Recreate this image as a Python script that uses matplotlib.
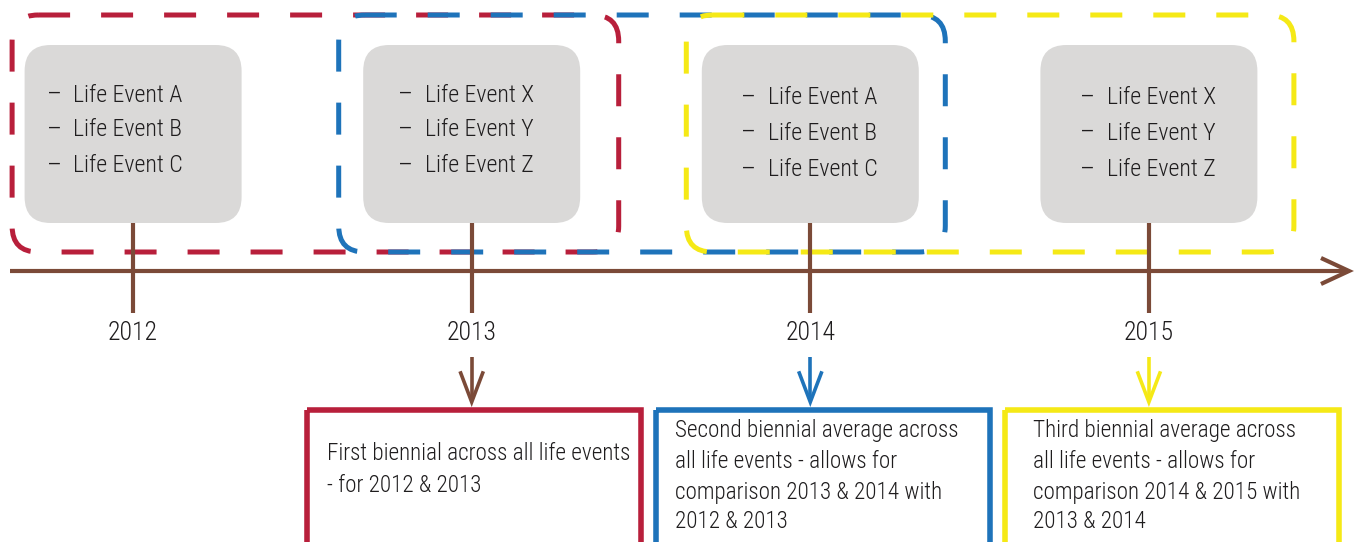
import matplotlib
matplotlib.use("Agg")
import matplotlib.pyplot as plt
from matplotlib.patches import FancyBboxPatch, Rectangle
from matplotlib import font_manager

# ---------------- data ----------------
years = [2012, 2013, 2014, 2015]
life_events = [
    ["Life Event A", "Life Event B", "Life Event C"],
    ["Life Event X", "Life Event Y", "Life Event Z"],
    ["Life Event A", "Life Event B", "Life Event C"],
    ["Life Event X", "Life Event Y", "Life Event Z"],
]
period_years = [(2012, 2013), (2013, 2014), (2014, 2015)]
period_arrow_year = [2013, 2014, 2015]
notes = [
    ["First biennial across all life events", "- for 2012 & 2013"],
    ["Second biennial average across", "all life events - allows for",
     "comparison 2013 & 2014 with", "2012 & 2013"],
    ["Third biennial average across", "all life events - allows for",
     "comparison 2014 & 2015 with", "2013 & 2014"],
]

# ---------------- style ----------------
BROWN = "#7B4A38"
RED = "#B81F3B"
BLUE = "#1E73BA"
YELLOW = "#F5E916"
GRAY = "#DAD9D8"
TXT = "#1F1D1E"
period_colors = [RED, BLUE, YELLOW]
arrow_colors = [BROWN, BLUE, YELLOW]

avail = {f.name for f in font_manager.fontManager.ttflist}
FONT = "DejaVu Sans"
for cand in ["Roboto Condensed", "Archivo Narrow", "IBM Plex Sans Condensed",
             "Fira Sans Condensed"]:
    if cand in avail:
        FONT = cand
        break
plt.rcParams["font.family"] = [FONT, "DejaVu Sans"]
plt.rcParams["font.weight"] = 300

W, H = 1356, 542
fig = plt.figure(figsize=(W / 100, H / 100), dpi=100)
ax = fig.add_axes([0, 0, 1, 1])
ax.set_xlim(0, W)
ax.set_ylim(H, 0)
ax.axis("off")

X0, STEP = 133.1, 338.6
def xpos(y):
    return X0 + (y - years[0]) * STEP

AXIS_Y = 271
BOX_W, BOX_TOP, BOX_BOT = 217, 45, 223
event_rows = [[95, 130, 166], [95, 130, 166], [98, 133, 170], [98, 133, 170]]
event_dx = [(-86, -60), (-74, -47), (-69, -42), (-69, -42)]

# dashed period frames
for (y0, y1), c, (lo, hi) in zip(period_years, period_colors,
                                 [(121, 147), (133, 135), (124, 145)]):
    x_left = xpos(y0) - lo
    x_right = xpos(y1) + hi
    p = FancyBboxPatch((x_left, 15), x_right - x_left, 237,
                       boxstyle="round,pad=0,rounding_size=26",
                       fill=False, edgecolor=c, linewidth=3.6,
                       linestyle=(0, (6.4, 6.2)), capstyle="butt", zorder=2)
    ax.add_patch(p)

# timeline
ax.plot([10, 1348], [AXIS_Y, AXIS_Y], color=BROWN, lw=3.0, zorder=3,
        solid_capstyle="butt")
ax.plot([1321, 1349, 1321], [258, AXIS_Y, 284], color=BROWN, lw=3.0, zorder=3,
        solid_joinstyle="miter", solid_capstyle="butt")

# gray event boxes + ticks + year labels
for yr, evs, rows, (ddx, tdx) in zip(years, life_events, event_rows, event_dx):
    x = xpos(yr)
    ax.plot([x, x], [BOX_BOT - 2, 313], color=BROWN, lw=3.0, zorder=3,
            solid_capstyle="butt")
    b = FancyBboxPatch((x - BOX_W / 2, BOX_TOP), BOX_W, BOX_BOT - BOX_TOP,
                       boxstyle="round,pad=0,rounding_size=26",
                       facecolor=GRAY, edgecolor="none", zorder=4)
    ax.add_patch(b)
    for ev, ry in zip(evs, rows):
        ax.text(x + ddx, ry, "\u2013", ha="left", va="center", fontsize=19,
                color=TXT, zorder=5)
        ax.text(x + tdx, ry, ev, ha="left", va="center", fontsize=17.2,
                color=TXT, zorder=5)
    ax.text(x, 333, str(yr), ha="center", va="center", fontsize=18.5,
            color=TXT, zorder=5)

# arrows and note boxes
NOTE_LEFT0, NOTE_STEP, NOTE_W = 307, 349, 334
note_rows = [[453, 485], [431, 461, 492, 522], [431, 461, 492, 522]]
note_dx = [20, 19, 28]
for k, (ay, c_arrow, c_box, lines, rows) in enumerate(
        zip(period_arrow_year, arrow_colors, period_colors, notes, note_rows)):
    x = xpos(ay)
    ax.plot([x, x], [357, 401], color=c_arrow, lw=2.6, zorder=3,
            solid_capstyle="butt")
    ax.plot([x - 11, x, x + 11], [373, 402, 373], color=c_arrow, lw=2.6,
            zorder=3, solid_joinstyle="miter")
    left = NOTE_LEFT0 + k * NOTE_STEP
    r = Rectangle((left, 410), NOTE_W, 200, fill=False, edgecolor=c_box,
                  linewidth=4.0, zorder=3, clip_on=True)
    ax.add_patch(r)
    for ln, ry in zip(lines, rows):
        ax.text(left + note_dx[k], ry, ln, ha="left", va="center", fontsize=16.7,
                color=TXT, zorder=5)

fig.savefig("out.png", dpi=100)
